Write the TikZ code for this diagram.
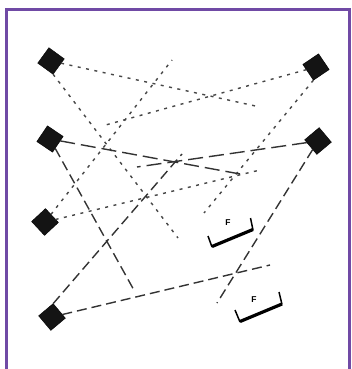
\documentclass[tikz,border=0pt]{standalone}
\usepackage{fontspec}
\setmainfont{Liberation Sans}
\definecolor{framepurple}{RGB}{112,74,165}
\begin{document}
\begin{tikzpicture}[x=1pt,y=-1pt,
  sq/.style={draw=black,fill=black!92,minimum size=19pt,inner sep=0pt,outer sep=0pt},
  dotl/.style={draw=black!72,line width=1.4pt,dash pattern=on 3pt off 5.5pt},
  dashl/.style={draw=black!80,line width=1.4pt,dash pattern=on 10pt off 5pt},
  longl/.style={draw=black!80,line width=1.4pt,dash pattern=on 15pt off 6pt},
  bracketbase/.style={draw=black,line width=3.2pt},
  brackettick/.style={draw=black,line width=1.5pt},
  flabel/.style={font=\fontsize{8.5}{9}\selectfont\bfseries,inner sep=0pt},
  frame/.style={draw=framepurple,line width=3pt}
]
\useasboundingbox (0,0) rectangle (351,369);
\fill[white] (0,0) rectangle (351,369);
\draw[frame] (6.5,375) -- (6.5,10) -- (349,10) -- (349,375);

% squares
\node[sq,rotate=54] (tl) at (51,61) {};
\node[sq,rotate=56] (l2) at (50,139) {};
\node[sq,rotate=43] (l3) at (45,222) {};
\node[sq,rotate=40] (bl) at (52,317) {};
\node[sq,rotate=34] (rt) at (316,67) {};
\node[sq,rotate=40] (rs) at (318,141) {};

% free ends
\coordinate (e1) at (260,107);
\coordinate (e2) at (102,126);
\coordinate (e3) at (172,60);
\coordinate (e4) at (178,238);
\coordinate (e5) at (204,213);
\coordinate (e6) at (260,170);
\coordinate (e7) at (137,167);
\coordinate (e8) at (240,174);
\coordinate (e9) at (135,292);
\coordinate (e10) at (182,154);
\coordinate (e11) at (270,265);
\coordinate (e12) at (217,303);

% dotted connectors
\draw[dotl] (tl) -- (e1);
\draw[dotl] (tl.south west) -- (e4);
\draw[dotl] (rt) -- (e2);
\draw[dotl] (rt.south west) -- (e5);
\draw[dotl] (l3) -- (e3);
\draw[dotl] (l3) -- (e6);

% dashed connectors
\draw[longl] (rs) -- (e7);
\draw[longl] (l2) -- (e8);
\draw[dashl] (l2) -- (e9);
\draw[dashl] (bl.north east) -- (e10);
\draw[dashl] (bl) -- (e11);
\draw[dashl] (rs) -- (e12);

% brackets with F
\draw[brackettick] (208,236) -- (212,247);
\draw[bracketbase] (212,246.5) -- (253,229.5);
\draw[brackettick] (253,230) -- (250.5,218);
\node[flabel] (f1) at (228,223) {F};

\draw[brackettick] (235,310) -- (240,322);
\draw[bracketbase] (240,321.5) -- (282,304);
\draw[brackettick] (282,304.5) -- (279,292);
\node[flabel] (f2) at (254,300) {F};
\end{tikzpicture}
\end{document}
